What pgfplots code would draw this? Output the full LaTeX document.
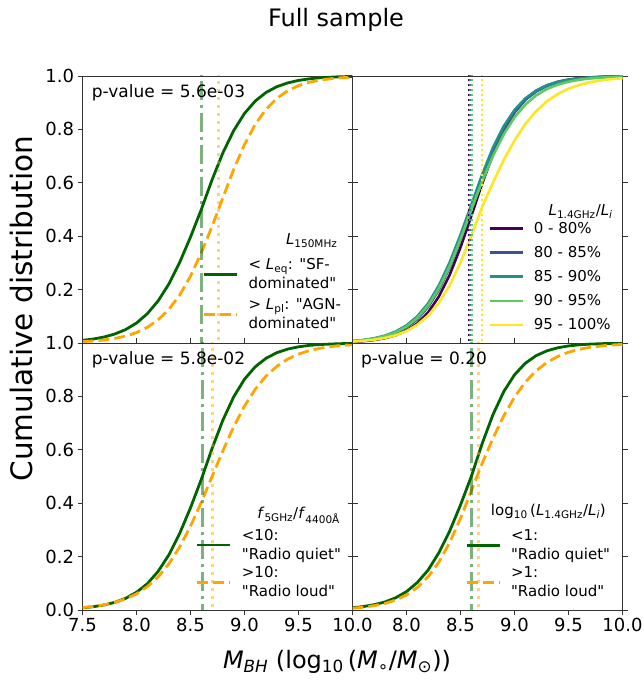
\documentclass[border=0pt]{standalone}
\usepackage{fontspec}
\setmainfont{DejaVu Sans}[Ligatures=TeXOff]
\usepackage{pgfplots}
\pgfplotsset{compat=1.18}

\definecolor{dgreen}{RGB}{0,100,0}
\definecolor{orng}{RGB}{255,165,0}
\definecolor{vir1}{HTML}{440154}
\definecolor{vir2}{HTML}{3B528B}
\definecolor{vir3}{HTML}{21918C}
\definecolor{vir4}{HTML}{5EC962}
\definecolor{vir5}{HTML}{FDE725}

\newcommand{\tickfont}{\fontsize{18}{21}\selectfont}
\newcommand{\pfont}{\fontsize{17}{20}\selectfont}
\newcommand{\legfont}{\fontsize{15}{19}\selectfont}
\newcommand{\labfont}{\fontsize{24}{28}\selectfont}
\newcommand{\ylabfont}{\fontsize{29.5}{34}\selectfont}

\tikzset{txt/.style={inner sep=0pt, font=#1}}

\pgfplotsset{
  panel/.style={
    scale only axis, width=270pt, height=267pt,
    xmin=7.5, xmax=10, ymin=0, ymax=1,
    axis line style={black!80, line width=0.8pt},
    tick align=outside, major tick length=5pt,
    every tick/.style={black!80, line width=0.8pt},
    xtick={7.5,8,8.5,9,9.5,10}, ytick={0,0.2,0.4,0.6,0.8,1},
    xticklabels={}, yticklabels={},
    tick label style={font=\tickfont},
    legend style={draw=none, fill=none, font=\legfont,
      cells={anchor=west, align=left}, inner sep=0pt, column sep=8pt},
    legend image code/.code={\draw[##1] (0pt,0pt) -- (33pt,0pt);},
    legend cell align=left,
  },
  lo/.style={dgreen, line width=2.8pt},
  hi/.style={orng, line width=2.8pt, dash pattern=on 11pt off 5pt},
  vlo/.style={dgreen, line width=3pt, opacity=0.5, dash pattern=on 19pt off 5pt on 3pt off 5pt, forget plot},
  vhi/.style={orng, line width=3pt, opacity=0.5, dash pattern=on 3pt off 5pt, forget plot},
  vir/.style={#1, line width=2.6pt},
  vvir/.style={#1, line width=2pt, dash pattern=on 2pt off 3pt, forget plot},
}

\begin{document}
\begin{tikzpicture}
\path[use as bounding box] (0pt,0pt) rectangle (643pt,683pt);

% top left
\begin{axis}[panel, at={(82.5pt,607pt)}, anchor=north west,
  xtick=\empty, yticklabels={,0.2,0.4,0.6,0.8,1.0},
  legend style={at={(0.445,0.04)}, anchor=south west, row sep=4pt}]
\addplot[lo] coordinates {
(7.5,.0098) (7.6,.0149) (7.7,.0224) (7.8,.0338) (7.9,.0504) (8.0,.0746) (8.1,.1096) (8.2,.1576)
(8.3,.2211) (8.4,.3021) (8.5,.3968) (8.6,.5000) (8.7,.6116) (8.8,.7122) (8.9,.7956) (9.0,.8598)
(9.1,.9064) (9.2,.9385) (9.3,.9600) (9.4,.9741) (9.5,.9834) (9.6,.9894) (9.7,.9933) (9.85,.9966) (10.0,.9983)};
\addlegendentry{< \textit{L}\textsubscript{eq}: "SF-\\dominated"}
\addplot[hi] coordinates {
(7.5,.0050) (7.6,.0075) (7.7,.0114) (7.8,.0172) (7.9,.0260) (8.0,.0389) (8.1,.0586) (8.2,.0868)
(8.3,.1261) (8.4,.1796) (8.5,.2504) (8.6,.3378) (8.7,.4371) (8.8,.5442) (8.9,.6502) (9.0,.7434)
(9.1,.8191) (9.2,.8757) (9.3,.9163) (9.4,.9447) (9.5,.9640) (9.6,.9766) (9.7,.9848) (9.85,.9921) (10.0,.9959)};
\addlegendentry{> \textit{L}\textsubscript{pl}: "AGN-\\dominated"}
\addplot[vlo] coordinates {(8.60,-0.05) (8.60,1.05)};
\addplot[vhi] coordinates {(8.76,-0.05) (8.76,1.05)};
\node[txt=\pfont, anchor=base west] at (rel axis cs:0.034,0.920) {p-value = 5.6e-03};
\node[txt=\legfont, anchor=base east] at (rel axis cs:0.945,0.370) {\textit{L}\textsubscript{150MHz}};
\end{axis}

% top right
\begin{axis}[panel, at={(352.5pt,607pt)}, anchor=north west,
  xtick=\empty,
  legend style={at={(0.502,0.035)}, anchor=south west, row sep=7.6pt}]
\addplot[vir=vir1] coordinates {
(7.5,.0043) (7.6,.0069) (7.7,.0111) (7.8,.0180) (7.9,.0290) (8.0,.0466) (8.1,.0734) (8.2,.1144)
(8.3,.1741) (8.4,.2554) (8.5,.3582) (8.6,.4757) (8.7,.5960) (8.8,.7058) (8.9,.7960) (9.0,.8640)
(9.1,.9118) (9.2,.9439) (9.3,.9648) (9.4,.9781) (9.5,.9864) (9.6,.9915) (9.7,.9947) (9.85,.9975) (10.0,.9988)};
\addlegendentry{0 - 80\%}
\addplot[vir=vir2] coordinates {
(7.5,.0061) (7.6,.0096) (7.7,.0150) (7.8,.0238) (7.9,.0370) (8.0,.0581) (8.1,.0891) (8.2,.1353)
(8.3,.1993) (8.4,.2834) (8.5,.3859) (8.6,.5000) (8.7,.6141) (8.8,.7166) (8.9,.8007) (9.0,.8647)
(9.1,.9109) (9.2,.9419) (9.3,.9630) (9.4,.9762) (9.5,.9850) (9.6,.9904) (9.7,.9939) (9.85,.9970) (10.0,.9985)};
\addlegendentry{80 - 85\%}
\addplot[vir=vir3] coordinates {
(7.5,.0072) (7.6,.0112) (7.7,.0177) (7.8,.0275) (7.9,.0430) (8.0,.0658) (8.1,.0996) (8.2,.1480)
(8.3,.2154) (8.4,.3021) (8.5,.4050) (8.6,.5174) (8.7,.6304) (8.8,.7311) (8.9,.8120) (9.0,.8727)
(9.1,.9160) (9.2,.9455) (9.3,.9651) (9.4,.9778) (9.5,.9860) (9.6,.9911) (9.7,.9943) (9.85,.9972) (10.0,.9986)};
\addlegendentry{85 - 90\%}
\addplot[vir=vir4] coordinates {
(7.5,.0067) (7.6,.0106) (7.7,.0166) (7.8,.0259) (7.9,.0400) (8.0,.0615) (8.1,.0936) (8.2,.1402)
(8.3,.2044) (8.4,.2878) (8.5,.3884) (8.6,.5000) (8.7,.6045) (8.8,.7002) (8.9,.7817) (9.0,.8454)
(9.1,.8930) (9.2,.9274) (9.3,.9515) (9.4,.9676) (9.5,.9786) (9.6,.9860) (9.7,.9907) (9.85,.9950) (10.0,.9973)};
\addlegendentry{90 - 95\%}
\addplot[vir=vir5] coordinates {
(7.5,.0052) (7.6,.0083) (7.7,.0122) (7.8,.0190) (7.9,.0290) (8.0,.0447) (8.1,.0682) (8.2,.1022)
(8.3,.1503) (8.4,.2164) (8.5,.3013) (8.6,.4016) (8.7,.5092) (8.8,.6001) (8.9,.6850) (9.0,.7584)
(9.1,.8202) (9.2,.8680) (9.3,.9054) (9.4,.9323) (9.5,.9526) (9.6,.9665) (9.7,.9767) (9.85,.9864) (10.0,.9916)};
\addlegendentry{95 - 100\%}
\addplot[vvir=vir1] coordinates {(8.58,-0.05) (8.58,1.05)};
\addplot[vvir=vir2] coordinates {(8.60,-0.05) (8.60,1.05)};
\addplot[vvir=vir3] coordinates {(8.59,-0.05) (8.59,1.05)};
\addplot[vvir=vir4] coordinates {(8.61,-0.05) (8.61,1.05)};
\addplot[vvir=vir5] coordinates {(8.70,-0.05) (8.70,1.05)};
\node[txt=\legfont, anchor=base east] at (rel axis cs:0.964,0.476) {\textit{L}\textsubscript{1.4GHz}/\textit{L}\textsubscript{\textit{i}}};
\end{axis}

% bottom left
\begin{axis}[panel, at={(82.5pt,340pt)}, anchor=north west,
  xticklabels={7.5,8.0,8.5,9.0,9.5,10.0}, yticklabels={0.0,0.2,0.4,0.6,0.8,1.0},
  legend style={at={(0.42,0.035)}, anchor=south west, row sep=2pt}]
\addplot[lo] coordinates {
(7.5,.0083) (7.6,.0124) (7.7,.0188) (7.8,.0288) (7.9,.0438) (8.0,.0664) (8.1,.0982) (8.2,.1445)
(8.3,.2066) (8.4,.2870) (8.5,.3828) (8.6,.4891) (8.7,.6053) (8.8,.7113) (8.9,.7984) (9.0,.8644)
(9.1,.9112) (9.2,.9429) (9.3,.9638) (9.4,.9772) (9.5,.9857) (9.6,.9911) (9.7,.9943) (9.85,.9970) (10.0,.9987)};
\addlegendentry{<10:\\"Radio quiet"}
\addplot[hi] coordinates {
(7.5,.0090) (7.6,.0134) (7.7,.0196) (7.8,.0285) (7.9,.0417) (8.0,.0604) (8.1,.0873) (8.2,.1237)
(8.3,.1729) (8.4,.2364) (8.5,.3137) (8.6,.4035) (8.7,.5000) (8.8,.5965) (8.9,.6863) (9.0,.7636)
(9.1,.8271) (9.2,.8763) (9.3,.9127) (9.4,.9396) (9.5,.9583) (9.6,.9715) (9.7,.9804) (9.85,.9891) (10.0,.9938)};
\addlegendentry{>10:\\"Radio loud"}
\addplot[vlo] coordinates {(8.61,-0.05) (8.61,1.05)};
\addplot[vhi] coordinates {(8.70,-0.05) (8.70,1.05)};
\node[txt=\pfont, anchor=base west] at (rel axis cs:0.034,0.918) {p-value = 5.8e-02};
\node[txt=\legfont, anchor=base east] at (rel axis cs:0.954,0.343) {\textit{f}\textsubscript{5GHz}/\textit{f}\textsubscript{4400Å}};
\end{axis}

% bottom right
\begin{axis}[panel, at={(352.5pt,340pt)}, anchor=north west,
  xticklabels={,8.0,8.5,9.0,9.5,10.0},
  legend style={at={(0.417,0.035)}, anchor=south west, row sep=2pt}]
\addplot[lo] coordinates {
(7.5,.0085) (7.6,.0129) (7.7,.0198) (7.8,.0299) (7.9,.0458) (8.0,.0689) (8.1,.1029) (8.2,.1494)
(8.3,.2146) (8.4,.2959) (8.5,.3932) (8.6,.5000) (8.7,.6225) (8.8,.7311) (8.9,.8176) (9.0,.8808)
(9.1,.9241) (9.2,.9526) (9.3,.9707) (9.4,.9820) (9.5,.9890) (9.6,.9933) (9.7,.9959) (9.85,.9980) (10.0,.9991)};
\addlegendentry{<1:\\"Radio quiet"}
\addplot[hi] coordinates {
(7.5,.0067) (7.6,.0104) (7.7,.0160) (7.8,.0244) (7.9,.0370) (8.0,.0562) (8.1,.0844) (8.2,.1242)
(8.3,.1794) (8.4,.2528) (8.5,.3430) (8.6,.4460) (8.7,.5488) (8.8,.6425) (8.9,.7270) (9.0,.7971)
(9.1,.8537) (9.2,.8958) (9.3,.9272) (9.4,.9496) (9.5,.9654) (9.6,.9764) (9.7,.9838) (9.85,.9910) (10.0,.9948)};
\addlegendentry{>1:\\"Radio loud"}
\addplot[vlo] coordinates {(8.60,-0.05) (8.60,1.05)};
\addplot[vhi] coordinates {(8.67,-0.05) (8.67,1.05)};
\node[txt=\pfont, anchor=base west] at (rel axis cs:0.031,0.918) {p-value = 0.20};
\node[txt=\legfont, anchor=base east] at (rel axis cs:0.939,0.353) {log\textsubscript{10}\,(\textit{L}\textsubscript{1.4GHz}/\textit{L}\textsubscript{\textit{i}})};
\end{axis}

\node[font=\labfont, anchor=base] at (336pt,656pt) {Full sample};
\node[font=\ylabfont, rotate=90, anchor=base, inner sep=0pt] at (32pt,374.5pt) {Cumulative distribution};
\node[font=\labfont, anchor=base] at (337pt,14pt) {\textit{M}\textsubscript{\textit{BH}} (log\textsubscript{10}\,(\textit{M}\textsubscript{∘}/\textit{M}\textsubscript{⊙}))};
\end{tikzpicture}
\end{document}
